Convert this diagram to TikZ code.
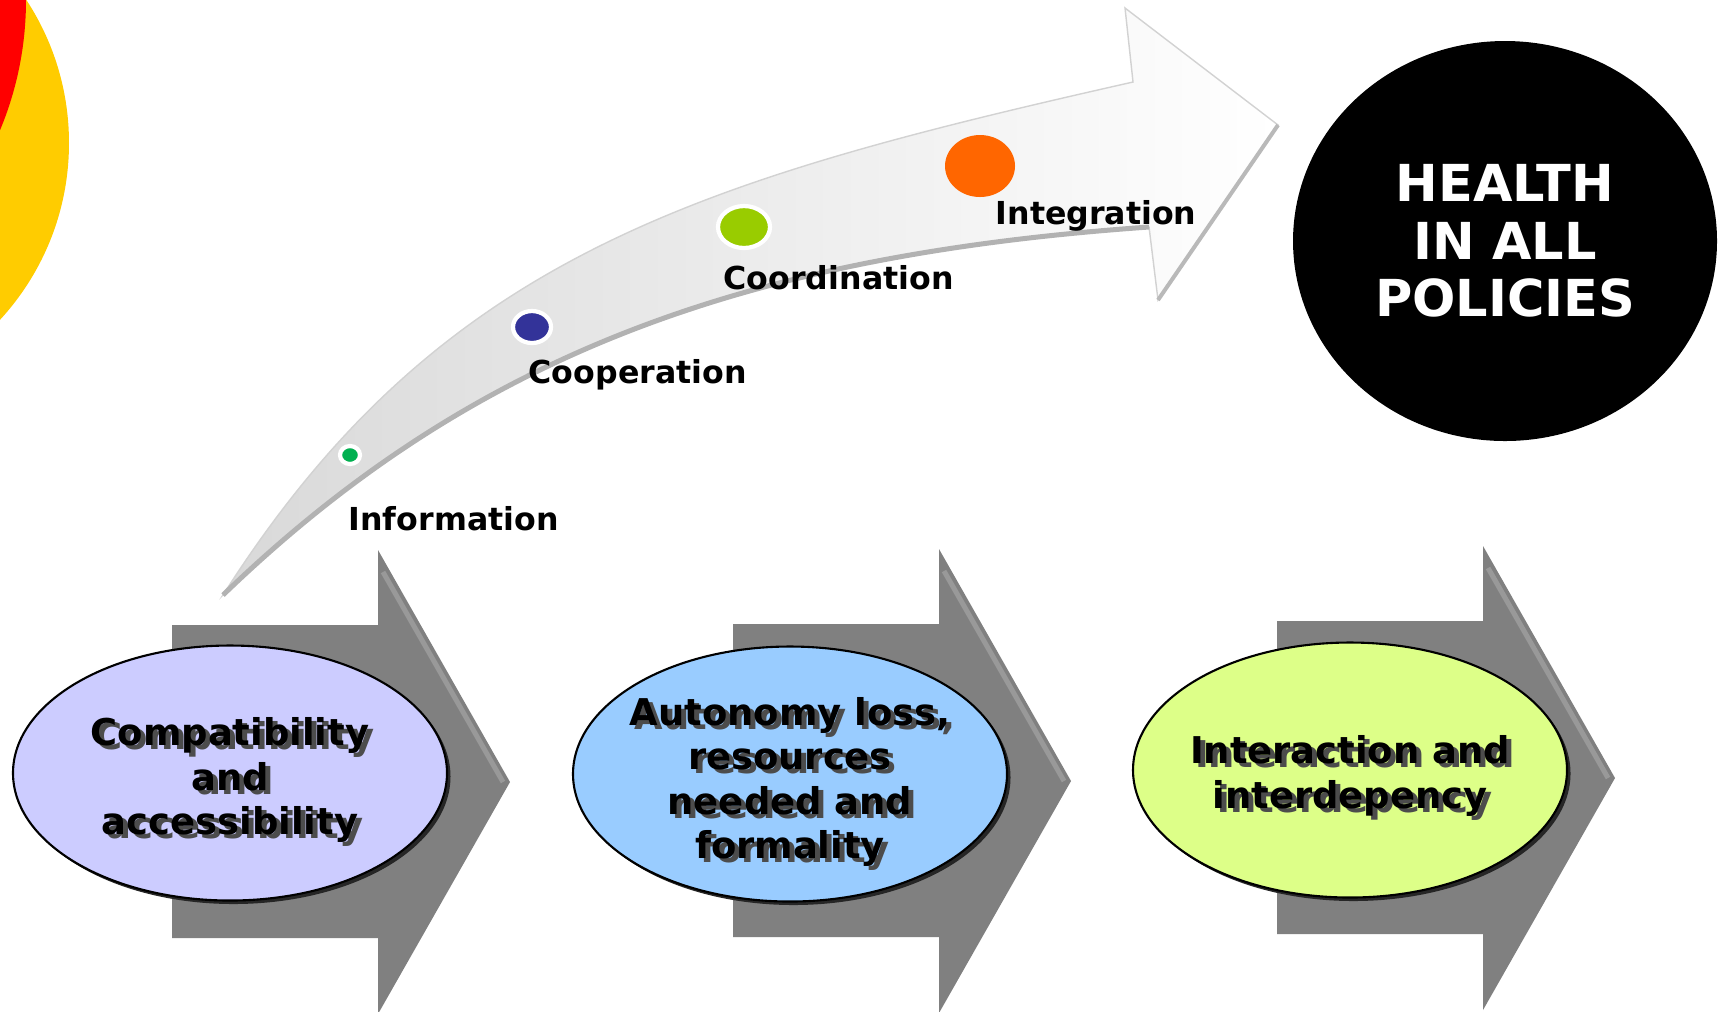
\documentclass[tikz,border=0pt]{standalone}
\usepackage{fontspec}
\setmainfont{DejaVu Sans}
\usepackage{tikz}
\usetikzlibrary{shapes.geometric,shadows,calc}
\definecolor{lilac}{RGB}{204,204,255}
\definecolor{skyblue}{RGB}{153,204,255}
\definecolor{limeyellow}{RGB}{221,255,136}
\definecolor{dotgreen}{RGB}{0,176,80}
\definecolor{dotblue}{RGB}{51,51,153}
\definecolor{dotlime}{RGB}{153,204,0}
\definecolor{dotorange}{RGB}{255,102,0}
\definecolor{sunyellow}{RGB}{255,204,0}

\begin{document}
\begin{tikzpicture}[x=0.1mm,y=-0.1mm,
  phase/.style={ellipse,draw=black,line width=0.6pt,minimum width=43.4mm,minimum height=25.5mm,inner sep=0pt,
    drop shadow={shadow xshift=.35mm,shadow yshift=-.35mm,fill=black!85,opacity=1}},
  phasetxt/.style={align=center,inner sep=0pt,text=black,font=\bfseries\fontsize{10.5}{12.6}\selectfont},
  phaseshade/.style={phasetxt,text=black!70},
  stage/.style={ellipse,inner sep=0pt,draw=white,line width=1.2pt},
  stagetxt/.style={anchor=base west,inner sep=0pt,font=\bfseries\fontsize{9}{10}\selectfont},
  goal/.style={ellipse,fill=black,minimum width=42.4mm,minimum height=40mm,inner sep=0pt,
    text=white,align=center,font=\bfseries\fontsize{14.5}{16.4}\selectfont}]
  \useasboundingbox (0,0) rectangle (1720,1011);
  \fill[sunyellow] (-192,143) circle (261);
  \fill[red] (-312,0) circle (338);

  % big curved arrow
  \path[left color=gray!30,right color=white,draw=gray!35,line width=0.4pt]
    (223,595) .. controls (438,257) and (694,181) .. (1133,82)
    -- (1125,8) -- (1278,125) -- (1158,300) -- (1149,227)
    .. controls (750,255) and (475,352) .. (223,595) -- cycle;
  \draw[gray!60,line width=0.5mm] (1149,227) .. controls (750,255) and (475,352) .. (223,595);
  \draw[gray!55,line width=0.4mm] (1278,125) -- (1158,300);

  \node[stage,fill=dotgreen,minimum width=2mm,minimum height=1.8mm] (infodot) at (350,455) {};
  \node[stage,fill=dotblue,minimum width=3.8mm,minimum height=3.2mm] (coopdot) at (532,327) {};
  \node[stage,fill=dotlime,minimum width=5.2mm,minimum height=4.2mm] (coorddot) at (744,227) {};
  \node[stage,fill=dotorange,draw=none,minimum width=7mm,minimum height=6.2mm] (integdot) at (980,166) {};
  \node[stagetxt] (info) at (348,530) {Information};
  \node[stagetxt] (coop) at (528,383) {Cooperation};
  \node[stagetxt] (coord) at (723,289) {Coordination};
  \node[stagetxt] (integ) at (995,224) {Integration};

  % grey block arrows
  \foreach \dx/\dy in {0/0,561/-1,1105/-4}{
    \begin{scope}[shift={(\dx,\dy)}]
      \fill[gray] (172,625) -- (378,625) -- (378,550) -- (510,782) -- (378,1014) -- (378,938) -- (172,938) -- cycle;
      \draw[gray!80!white,line width=0.5mm] (383,572) -- (503,782);
    \end{scope}}

  \node[phase,fill=lilac] (compat) at (230,773) {};
  \node[phaseshade] at ([shift={(5,11)}]compat.center) {Compatibility\\and\\accessibility};
  \node[phasetxt] (compattxt) at ([shift={(0,7)}]compat.center) {Compatibility\\and\\accessibility};

  \node[phase,fill=skyblue] (autonomy) at (790,774) {};
  \node[phaseshade] at ([shift={(5,12)}]autonomy.center) {Autonomy loss,\\resources\\needed and\\formality};
  \node[phasetxt] (autonomytxt) at ([shift={(0,8)}]autonomy.center) {Autonomy loss,\\resources\\needed and\\formality};

  \node[phase,fill=limeyellow] (interact) at (1350,770) {};
  \node[phaseshade] at ([shift={(5,10)}]interact.center) {Interaction and\\interdepency};
  \node[phasetxt] (interacttxt) at ([shift={(0,6)}]interact.center) {Interaction and\\interdepency};

  \node[goal] (hiap) at (1505,241) {HEALTH\\IN ALL\\POLICIES};
\end{tikzpicture}
\end{document}
